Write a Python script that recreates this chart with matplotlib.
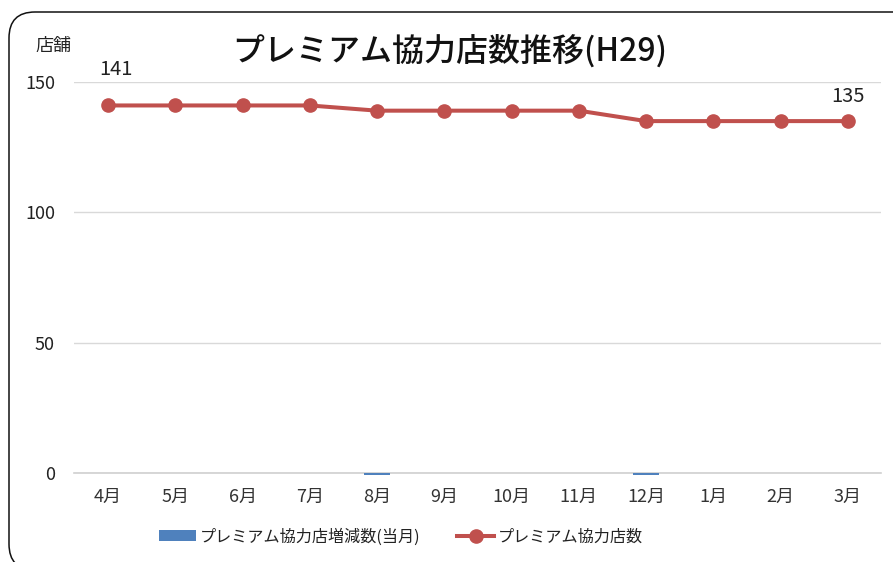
import matplotlib
matplotlib.use("Agg")
import matplotlib.pyplot as plt
from matplotlib.patches import FancyBboxPatch, Patch
from matplotlib.lines import Line2D
import numpy as np

plt.rcParams["font.family"] = ["Noto Sans CJK JP", "DejaVu Sans"]

# data
months = ["4月", "5月", "6月", "7月", "8月", "9月", "10月", "11月", "12月", "1月", "2月", "3月"]
store_count = [141, 141, 141, 141, 139, 139, 139, 139, 135, 135, 135, 135]
monthly_change = [0, 0, 0, 0, -0.6, 0, 0, 0, -0.6, 0, 0, 0]
y_ticks = [0, 50, 100, 150]

title = "プレミアム協力店数推移(H29)"
bar_label = "プレミアム協力店増減数(当月)"
line_label = "プレミアム協力店数"

bar_color = "#4F81BD"
line_color = "#C0504D"

fig = plt.figure(figsize=(8.93, 5.62), dpi=100)
ax = fig.add_axes([0.0833, 0.1584, 0.9037, 0.6957])

x = np.arange(len(months))
ax.bar(x, monthly_change, width=0.4, color=bar_color, linewidth=0, clip_on=False,
       antialiased=False, zorder=2)
ax.plot(x, store_count, color=line_color, linewidth=2.9, marker="o",
        markersize=9.5, zorder=3)

# labels on first and last point
ax.annotate(str(store_count[0]), (x[0], store_count[0]), xytext=(6, 22),
            textcoords="offset points", ha="center", fontsize=14.5, color="#222222")
ax.annotate(str(store_count[-1]), (x[-1], store_count[-1]), xytext=(0, 14),
            textcoords="offset points", ha="center", fontsize=14.5, color="#222222")

ax.set_xlim(-0.5, len(months) - 0.5)
ax.set_ylim(0, 150)
ax.set_yticks(y_ticks)
ax.set_xticks(x)
ax.set_xticklabels(months)
ax.tick_params(axis="y", length=0, pad=14, labelsize=13, labelcolor="#222222")
ax.tick_params(axis="x", length=0, pad=11, labelsize=13, labelcolor="#333333")
ax.grid(axis="y", color="#D9D9D9", linewidth=1)
ax.axhline(0, color="#D0D0D0", linewidth=1.2, zorder=1, clip_on=False)
ax.set_axisbelow(True)
for s in ax.spines.values():
    s.set_visible(False)

fig.text(0.060, 0.918, "店舗", fontsize=13, ha="center", va="center", color="#222222")
fig.text(0.504, 0.910, title, fontsize=23, ha="center", va="center",
         fontweight="medium", color="#111111")

handles = [Patch(facecolor=bar_color, edgecolor="none"),
           Line2D([0], [0], color=line_color, linewidth=2.9, marker="o", markersize=9.5)]
fig.legend(handles, [bar_label, line_label], loc="center", bbox_to_anchor=(0.449, 0.045),
           ncol=2, frameon=False, fontsize=11.6, handlelength=2.3, handleheight=0.7,
           handletextpad=0.2, columnspacing=2.3, labelcolor="#222222")

# rounded border of the chart area
frame = FancyBboxPatch((0.09, -0.08), 9.3, 5.58, boxstyle="round,pad=0,rounding_size=0.26",
                       transform=fig.dpi_scale_trans, facecolor="none",
                       edgecolor="#111111", linewidth=1.1, clip_on=False)
fig.patches.append(frame)

fig.savefig("out.png", dpi=100)
